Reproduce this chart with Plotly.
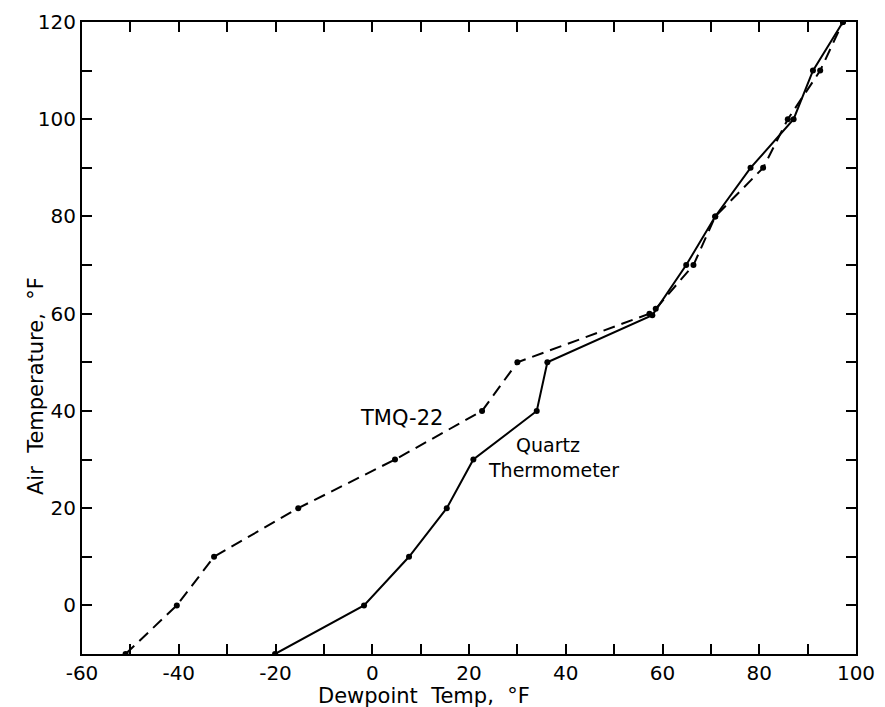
import plotly.graph_objects as go

# TMQ-22 (dashed)
tmq_dew = [-51, -40.4, -32.7, -15.3, 4.7, 22.7, 30.0, 57.3, 58.6, 66.4, 70.9, 80.8, 85.9, 92.6, 97.3]
tmq_air = [-10, 0, 10, 20, 30, 40, 50, 60, 61, 70, 80, 90, 100, 110, 120]

# Quartz thermometer (solid)
qtz_dew = [-20.1, -1.7, 7.6, 15.4, 20.9, 34.0, 36.2, 57.9, 64.9, 70.9, 78.2, 87.1, 91.1, 97.3]
qtz_air = [-10, 0, 10, 20, 30, 40, 50, 59.7, 70, 80, 90, 100, 110, 120]

x_ticks = [-60, -40, -20, 0, 20, 40, 60, 80, 100]
x_labels = ["-60", "-40", "-20", "0", "20", "40", "60", "80", "100"]
y_ticks = [0, 20, 40, 60, 80, 100, 120]
y_labels = ["0", "20", "40", "60", "80", "100", "120"]

FONT = "DejaVu Sans"

fig = go.Figure()
fig.add_trace(go.Scatter(x=tmq_dew, y=tmq_air, mode="lines+markers",
                         line=dict(color="black", width=2, dash="12px,7px"),
                         marker=dict(color="black", size=6), name="TMQ-22"))
fig.add_trace(go.Scatter(x=qtz_dew, y=qtz_air, mode="lines+markers",
                         line=dict(color="black", width=2),
                         marker=dict(color="black", size=6), name="Quartz Thermometer"))

axis_common = dict(showgrid=False, zeroline=False, showline=True, linecolor="black",
                   linewidth=2, mirror="ticks", ticks="inside", ticklen=10,
                   tickwidth=2, tickcolor="black", automargin=False,
                   tickfont=dict(family=FONT, size=20, color="black"),
                   minor=dict(dtick=10, ticks="inside", ticklen=10, tickwidth=2,
                              tickcolor="black", showgrid=False))

fig.update_xaxes(range=[-60, 100], tickvals=x_ticks, ticktext=x_labels, **axis_common)
fig.update_yaxes(range=[-10, 120], tickvals=y_ticks, ticktext=y_labels, **axis_common)

fig.add_annotation(text="Dewpoint  Temp,  °F", xref="paper", yref="paper",
                   x=0.442, y=-0.066, showarrow=False, yanchor="middle",
                   font=dict(family=FONT, size=21, color="black"))
fig.add_annotation(text="Air  Temperature,  °F", xref="paper", yref="paper",
                   x=-0.0775, y=0.424, showarrow=False, textangle=-90,
                   font=dict(family=FONT, size=21, color="black"))
fig.add_annotation(text="TMQ-22", x=6.0, y=38.6, xref="x", yref="y", showarrow=False,
                   font=dict(family=FONT, size=21, color="black"))
fig.add_annotation(text="Quartz", x=36.4, y=33.0, xref="x", yref="y",
                   showarrow=False, font=dict(family=FONT, size=19, color="black"))
fig.add_annotation(text="Thermometer", x=37.4, y=27.8, xref="x", yref="y",
                   showarrow=False, font=dict(family=FONT, size=19, color="black"))

fig.update_layout(width=877, height=699, showlegend=False,
                  plot_bgcolor="white", paper_bgcolor="white",
                  margin=dict(l=74, r=29, t=14, b=53))

fig.write_html("out.html")
